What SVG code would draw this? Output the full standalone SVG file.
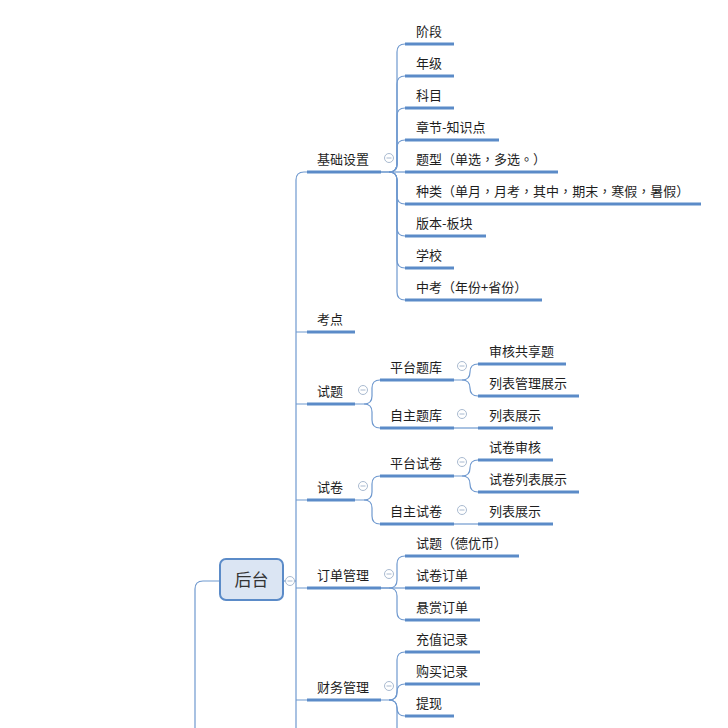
<svg xmlns="http://www.w3.org/2000/svg" width="728" height="728" viewBox="0 0 728 728">
<defs>
<style>
.t{font-family:"Noto Sans CJK SC","Liberation Sans",sans-serif;font-size:13px;fill:#1e1e1e}
.p{font-family:"Noto Sans CJK TC","Noto Sans CJK SC",sans-serif}
.u{stroke:#5b8bc8;stroke-width:3;fill:none}
.c{stroke:#6f99cf;stroke-width:1.2;fill:none}
.col circle{fill:#fff;stroke:#a9bad0;stroke-width:1}
.col line{stroke:#a9bad0;stroke-width:1}
</style>
</defs>
<rect width="728" height="728" fill="#fff"/>
<g id="connectors" class="c">
<path d="M307 172 H304 Q296 172 296 180 V740"/>
<path d="M296 332 H307 M296 404 H307 M296 500 H307 M296 588 H307 M296 700 H307"/>
<path d="M284 581 H296"/>
<path d="M219 581 H203 Q195 581 195 589 V740"/>
<path d="M381 172 H389 Q397 172 397 164 V52 Q397 44 405 44"/>
<path d="M389 172 Q397 172 397 164 V84 Q397 76 405 76"/>
<path d="M389 172 Q397 172 397 164 V116 Q397 108 405 108"/>
<path d="M389 172 Q397 172 397 164 V148 Q397 140 405 140"/>
<path d="M381 172 H405"/>
<path d="M389 172 Q397 172 397 180 V196 Q397 204 405 204"/>
<path d="M389 172 Q397 172 397 180 V228 Q397 236 405 236"/>
<path d="M389 172 Q397 172 397 180 V260 Q397 268 405 268"/>
<path d="M389 172 Q397 172 397 180 V292 Q397 300 405 300"/>
<path d="M355 404 H364 Q372 404 372 396 V388 Q372 380 380 380"/>
<path d="M364 404 Q372 404 372 412 V420 Q372 428 380 428"/>
<path d="M454 380 H462 Q470 380 470 372 Q470 364 478 364"/>
<path d="M462 380 Q470 380 470 388 Q470 396 478 396"/>
<path d="M454 428 H478"/>
<path d="M355 500 H364 Q372 500 372 492 V484 Q372 476 380 476"/>
<path d="M364 500 Q372 500 372 508 V516 Q372 524 380 524"/>
<path d="M454 476 H462 Q470 476 470 468 Q470 460 478 460"/>
<path d="M462 476 Q470 476 470 484 Q470 492 478 492"/>
<path d="M454 524 H478"/>
<path d="M381 588 H389 Q397 588 397 580 V564 Q397 556 405 556"/>
<path d="M381 588 H405"/>
<path d="M389 588 Q397 588 397 596 V612 Q397 620 405 620"/>
<path d="M381 700 H389 Q397 700 397 692 V660 Q397 652 405 652"/>
<path d="M389 700 Q397 700 397 692 Q397 684 405 684"/>
<path d="M389 700 Q397 700 397 708 Q397 716 405 716"/>
<path d="M389 700 Q397 700 397 708 V740"/>
</g>
<g id="root">
<rect x="220" y="559" width="63" height="41" rx="6" fill="#dbe5f3" stroke="#5b8bc8" stroke-width="2"/>
<text x="251.5" y="586" text-anchor="middle" style="font-family:'Noto Sans CJK SC','Liberation Sans',sans-serif;font-size:17px;fill:#333">后台</text>
<g class="col"><circle cx="290" cy="581" r="4.5"/><line x1="287.5" y1="581" x2="292.5" y2="581"/></g>
</g>
<g id="n-jcsz"><path class="u" d="M307 172 H381"/><text class="t" x="317" y="164">基础设置</text><g class="col"><circle cx="389" cy="158" r="4.5"/><line x1="386.5" y1="158" x2="391.5" y2="158"/></g></g>
<g id="n-jd"><path class="u" d="M405 44 H454"/><text class="t" x="416" y="36">阶段</text></g>
<g id="n-nj"><path class="u" d="M405 76 H454"/><text class="t" x="416" y="68">年级</text></g>
<g id="n-km"><path class="u" d="M405 108 H454"/><text class="t" x="416" y="100">科目</text></g>
<g id="n-zj"><path class="u" d="M405 140 H499"/><text class="t" x="416" y="132">章节-知识点</text></g>
<g id="n-tx"><path class="u" d="M405 172 H558"/><text class="t" x="416" y="164">题型<tspan class="p">（</tspan>单选<tspan class="p">，</tspan>多选<tspan class="p">。）</tspan></text></g>
<g id="n-zl"><path class="u" d="M405 204 H701"/><text class="t" x="416" y="196">种类<tspan class="p">（</tspan>单月<tspan class="p">，</tspan>月考<tspan class="p">，</tspan>其中<tspan class="p">，</tspan>期末<tspan class="p">，</tspan>寒假<tspan class="p">，</tspan>暑假<tspan class="p">）</tspan></text></g>
<g id="n-bb"><path class="u" d="M405 236 H486"/><text class="t" x="416" y="228">版本-板块</text></g>
<g id="n-xx"><path class="u" d="M405 268 H454"/><text class="t" x="416" y="260">学校</text></g>
<g id="n-zk"><path class="u" d="M405 300 H542"/><text class="t" x="416" y="292">中考<tspan class="p">（</tspan>年份+省份<tspan class="p">）</tspan></text></g>
<g id="n-kd"><path class="u" d="M307 332 H355"/><text class="t" x="317" y="324">考点</text></g>
<g id="n-st"><path class="u" d="M307 404 H355"/><text class="t" x="317" y="396">试题</text><g class="col"><circle cx="363" cy="390" r="4.5"/><line x1="360.5" y1="390" x2="365.5" y2="390"/></g></g>
<g id="n-pttk"><path class="u" d="M380 380 H454"/><text class="t" x="390" y="372">平台题库</text><g class="col"><circle cx="462" cy="366" r="4.5"/><line x1="459.5" y1="366" x2="464.5" y2="366"/></g></g>
<g id="n-shgx"><path class="u" d="M478 364 H566"/><text class="t" x="489" y="356">审核共享题</text></g>
<g id="n-lbgl"><path class="u" d="M478 396 H579"/><text class="t" x="489" y="388">列表管理展示</text></g>
<g id="n-zztk"><path class="u" d="M380 428 H454"/><text class="t" x="390" y="420">自主题库</text><g class="col"><circle cx="462" cy="414" r="4.5"/><line x1="459.5" y1="414" x2="464.5" y2="414"/></g></g>
<g id="n-lbzs1"><path class="u" d="M478 428 H553"/><text class="t" x="489" y="420">列表展示</text></g>
<g id="n-sj"><path class="u" d="M307 500 H355"/><text class="t" x="317" y="492">试卷</text><g class="col"><circle cx="363" cy="486" r="4.5"/><line x1="360.5" y1="486" x2="365.5" y2="486"/></g></g>
<g id="n-ptsj"><path class="u" d="M380 476 H454"/><text class="t" x="390" y="468">平台试卷</text><g class="col"><circle cx="462" cy="462" r="4.5"/><line x1="459.5" y1="462" x2="464.5" y2="462"/></g></g>
<g id="n-sjsh"><path class="u" d="M478 460 H553"/><text class="t" x="489" y="452">试卷审核</text></g>
<g id="n-sjlb"><path class="u" d="M478 492 H579"/><text class="t" x="489" y="484">试卷列表展示</text></g>
<g id="n-zzsj"><path class="u" d="M380 524 H454"/><text class="t" x="390" y="516">自主试卷</text><g class="col"><circle cx="462" cy="510" r="4.5"/><line x1="459.5" y1="510" x2="464.5" y2="510"/></g></g>
<g id="n-lbzs2"><path class="u" d="M478 524 H553"/><text class="t" x="489" y="516">列表展示</text></g>
<g id="n-ddgl"><path class="u" d="M307 588 H381"/><text class="t" x="317" y="580">订单管理</text><g class="col"><circle cx="389" cy="574" r="4.5"/><line x1="386.5" y1="574" x2="391.5" y2="574"/></g></g>
<g id="n-stdyb"><path class="u" d="M405 556 H519"/><text class="t" x="416" y="548">试题<tspan class="p">（</tspan>德优币<tspan class="p">）</tspan></text></g>
<g id="n-sjdd"><path class="u" d="M405 588 H480"/><text class="t" x="416" y="580">试卷订单</text></g>
<g id="n-xsdd"><path class="u" d="M405 620 H480"/><text class="t" x="416" y="612">悬赏订单</text></g>
<g id="n-cwgl"><path class="u" d="M307 700 H381"/><text class="t" x="317" y="692">财务管理</text><g class="col"><circle cx="389" cy="686" r="4.5"/><line x1="386.5" y1="686" x2="391.5" y2="686"/></g></g>
<g id="n-czjl"><path class="u" d="M405 652 H480"/><text class="t" x="416" y="644">充值记录</text></g>
<g id="n-gmjl"><path class="u" d="M405 684 H480"/><text class="t" x="416" y="676">购买记录</text></g>
<g id="n-tx2"><path class="u" d="M405 716 H454"/><text class="t" x="416" y="708">提现</text></g>
</svg>
